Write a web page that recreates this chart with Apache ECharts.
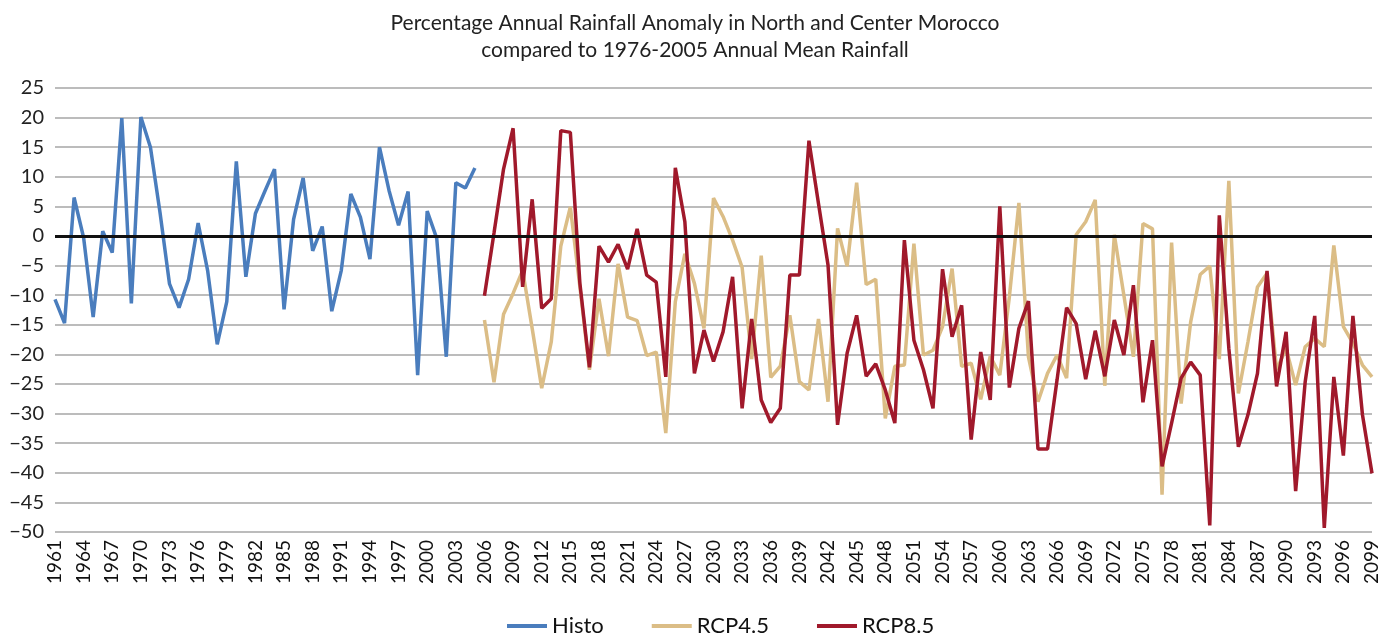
<!DOCTYPE html>
<html>
<head>
<meta charset="utf-8">
<script src="https://cdn.jsdelivr.net/npm/echarts@6/dist/echarts.min.js"></script>
<style>
html, body { margin: 0; padding: 0; background: #fff; }
#chart { width: 1390px; height: 642px; }
</style>
</head>
<body>
<div id="chart"></div>
<script>
// years 1961..2099
let years = [];
for (let y = 1961; y <= 2099; y++) years.push(String(y));

// 1961-2005
let histo = [
  -10.7, -14.7, 6.5, -0.3, -13.7, 0.8, -2.8, 19.9, -11.4, 20.1,
  15.0, 4.0, -8.1, -12.1, -7.3, 2.2, -5.9, -18.3, -11.1, 12.6,
  -6.9, 3.8, 7.6, 11.3, -12.4, 2.8, 9.8, -2.5, 1.6, -12.7,
  -5.8, 7.1, 3.2, -3.9, 15.0, 7.7, 1.8, 7.5, -23.5, 4.2,
  -0.4, -20.4, 9.0, 8.1, 11.5
];

// 2006-2099
let rcp45 = [
  -14.2, -24.7, -13.2, -9.7, -5.8, -15.6, -25.7, -17.9, -1.7, 4.9,
  -8.6, -22.6, -10.6, -20.3, -4.7, -13.7, -14.3, -20.2, -19.6, -33.3,
  -11.1, -3.0, -8.0, -15.6, 6.4, 3.3, -0.7, -5.3, -20.8, -3.3,
  -23.9, -22.0, -13.4, -24.6, -26.0, -14.0, -28.0, 1.3, -5.1, 9.0,
  -8.2, -7.3, -30.8, -22.0, -21.8, -1.3, -20.1, -19.3, -15.3, -5.5,
  -22.0, -21.5, -27.6, -20.3, -23.5, -10.3, 5.6, -20.4, -28.0, -23.2,
  -20.1, -24.0, 0.2, 2.4, 6.1, -25.3, 0.2, -10.0, -20.4, 2.1,
  1.2, -43.7, -1.1, -28.3, -14.5, -6.5, -5.1, -20.8, 9.3, -26.6,
  -17.9, -8.6, -6.3, -22.6, -19.0, -25.2, -18.7, -17.3, -18.7, -1.6,
  -15.3, -18.1, -21.8, -23.8
];

let rcp85 = [
  -10.1, 0.5, 11.3, 18.2, -8.6, 6.2, -12.2, -10.6, 17.8, 17.5,
  -8.0, -22.2, -1.7, -4.4, -1.4, -5.6, 1.2, -6.6, -7.8, -23.8,
  11.5, 2.4, -23.2, -15.9, -21.2, -16.2, -6.9, -29.1, -14.0, -27.7,
  -31.5, -29.1, -6.6, -6.6, 16.1, 5.5, -4.9, -31.9, -19.8, -13.4,
  -23.7, -21.6, -26.0, -31.6, -0.7, -17.6, -22.6, -29.1, -5.6, -17.0,
  -11.7, -34.4, -19.6, -27.7, 5.0, -25.6, -15.6, -11.0, -36.0, -36.0,
  -24.3, -12.1, -14.8, -24.2, -16.0, -23.7, -14.2, -20.1, -8.3, -28.1,
  -17.6, -38.9, -31.6, -24.0, -21.3, -23.5, -48.9, 3.5, -19.0, -35.6,
  -30.2, -23.2, -5.9, -25.4, -16.2, -43.1, -24.6, -13.5, -49.3, -23.8,
  -37.1, -13.5, -30.2, -40.1
];

let histoData = histo.concat(new Array(years.length - histo.length).fill('-'));
let pad = new Array(histo.length).fill('-');
let rcp45Data = pad.concat(rcp45);
let rcp85Data = pad.concat(rcp85);

let font = "Lato, 'Open Sans', sans-serif";

let option = {
  animation: false,
  title: {
    text: "Percentage Annual Rainfall Anomaly in North and Center Morocco\ncompared to 1976-2005 Annual Mean Rainfall",
    left: "center",
    top: 5,
    textStyle: {
      fontFamily: font,
      fontSize: 21,
      fontWeight: "normal",
      color: "#222",
      lineHeight: 27
    }
  },
  legend: {
    bottom: 0,
    left: 502,
    itemWidth: 40,
    itemHeight: 4,
    itemGap: 48,
    icon: "rect",
    textStyle: { fontFamily: font, fontSize: 22, color: "#111" },
    data: ["Histo", "RCP4.5", "RCP8.5"]
  },
  grid: {
    left: 55,
    right: 18,
    top: 88,
    bottom: 110
  },
  xAxis: {
    type: "category",
    boundaryGap: false,
    data: years,
    axisLine: { show: false },
    axisTick: { show: false },
    axisLabel: {
      interval: 2,
      rotate: 90,
      margin: 8,
      fontFamily: font,
      fontSize: 19,
      color: "#111"
    }
  },
  yAxis: {
    type: "value",
    min: -50,
    max: 25,
    interval: 5,
    axisLine: { show: false },
    axisTick: { show: false },
    axisLabel: {
      margin: 11,
      fontFamily: font,
      fontSize: 20,
      color: "#222",
      formatter: v => (v < 0 ? "\u2212" + Math.abs(v) : String(v))
    },
    splitLine: { lineStyle: { color: "#a6a6a6", width: 1.5 } }
  },
  series: [
    {
      name: "Histo",
      type: "line",
      data: histoData,
      showSymbol: false,
      lineStyle: { color: "#4a7dbd", width: 3.5 },
      itemStyle: { color: "#4a7dbd" },
      markLine: {
        silent: true,
        symbol: "none",
        label: { show: false },
        lineStyle: { color: "#111", width: 3, type: "solid" },
        data: [{ yAxis: 0 }]
      }
    },
    {
      name: "RCP4.5",
      type: "line",
      data: rcp45Data,
      showSymbol: false,
      lineStyle: { color: "#dbbd86", width: 3.5 },
      itemStyle: { color: "#dbbd86" }
    },
    {
      name: "RCP8.5",
      type: "line",
      data: rcp85Data,
      showSymbol: false,
      lineStyle: { color: "#a0192b", width: 3.5 },
      itemStyle: { color: "#a0192b" }
    }
  ]
};

let myChart = echarts.init(document.getElementById("chart"));
myChart.setOption(option);
</script>
</body>
</html>
